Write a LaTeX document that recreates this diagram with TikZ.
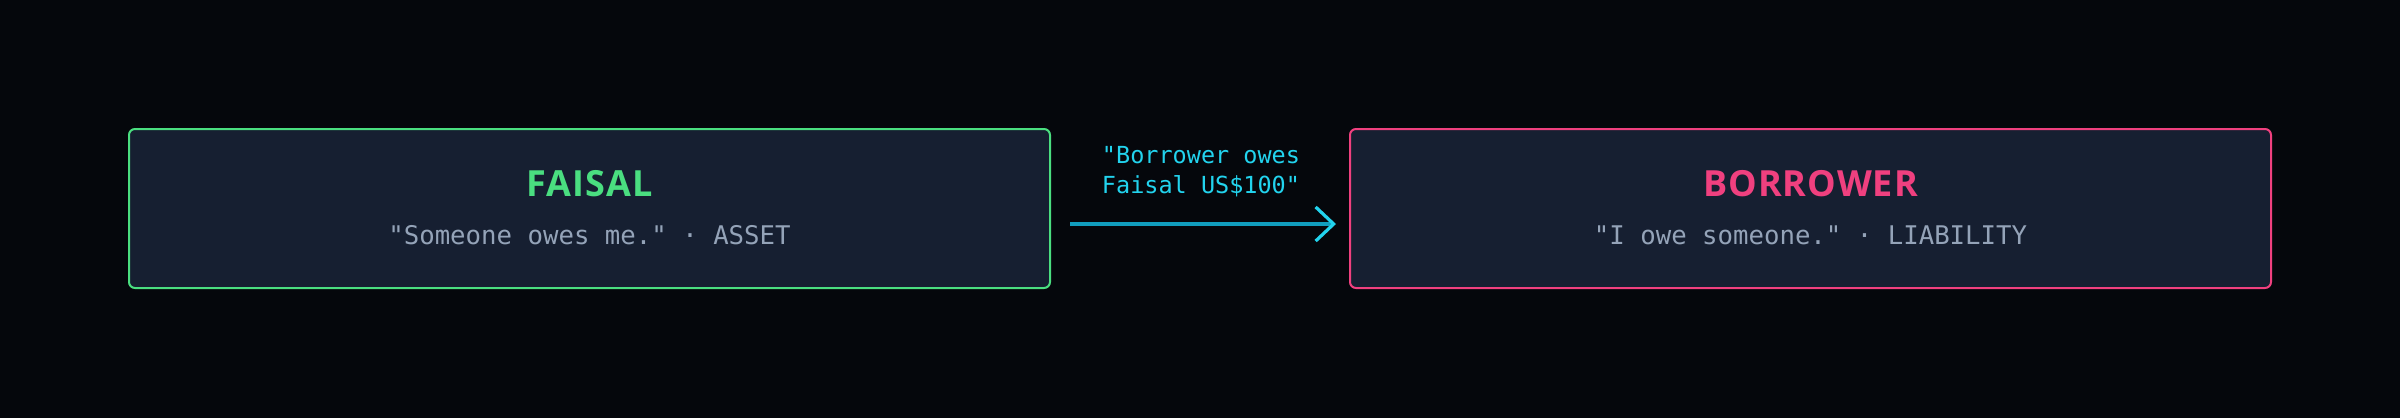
\documentclass[tikz,border=0pt]{standalone}
\usepackage{fontspec}
\setmonofont{DejaVu Sans Mono}
\newfontfamily\titlefont[LetterSpace=3]{Open Sans}
\usetikzlibrary{arrows.meta}
\definecolor{bg}{HTML}{05070C}
\definecolor{boxfill}{HTML}{161F31}
\definecolor{green}{HTML}{4ADE80}
\definecolor{pink}{HTML}{F0407F}
\definecolor{subgray}{HTML}{94A3B8}
\definecolor{cyanlabel}{HTML}{22D3EE}
\definecolor{cyanline}{HTML}{119DBE}
\tikzset{
  party/.style={draw, line width=1pt, fill=boxfill, rounded corners=3pt,
    minimum width=460.5pt, minimum height=79.5pt, inner sep=0pt},
  titletext/.style={font=\titlefont\bfseries\fontsize{18pt}{20pt}\selectfont},
  subtext/.style={font=\ttfamily\fontsize{12.85pt}{15pt}\selectfont, text=subgray},
  edgelabel/.style={font=\ttfamily\fontsize{11.75pt}{15pt}\selectfont, text=cyanlabel, align=center},
  flow/.style={draw=cyanline, line width=1.8pt, -{Straight Barb[length=9pt, width=17pt, line width=1.6pt, color=cyanlabel]}}
}
\begin{document}
\begin{tikzpicture}[x=0.5pt, y=-0.5pt]
  \fill[bg] (0,0) rectangle (2400,418);
  \useasboundingbox (0,0) rectangle (2400,418);
  \node[party, draw=green] (faisal) at (589.5,208.5) {};
  \node[party, draw=pink] (borrower) at (1810.5,208.5) {};
  \node[titletext, text=green] (ftitle) at (589.5,184) {FAISAL};
  \node[subtext] (fsub) at (589.5,235) {"Someone owes me." · ASSET};
  \node[titletext, text=pink] (btitle) at (1810.5,184) {BORROWER};
  \node[subtext] (bsub) at (1810.5,235) {"I owe someone." · LIABILITY};
  \coordinate (astart) at (1070,224);
  \coordinate (aend) at (1336,224);
  \draw[flow] (astart) -- (aend);
  \node[edgelabel] (lbl) at (1201,172) {"Borrower owes\\Faisal US\$100"};
\end{tikzpicture}
\end{document}
